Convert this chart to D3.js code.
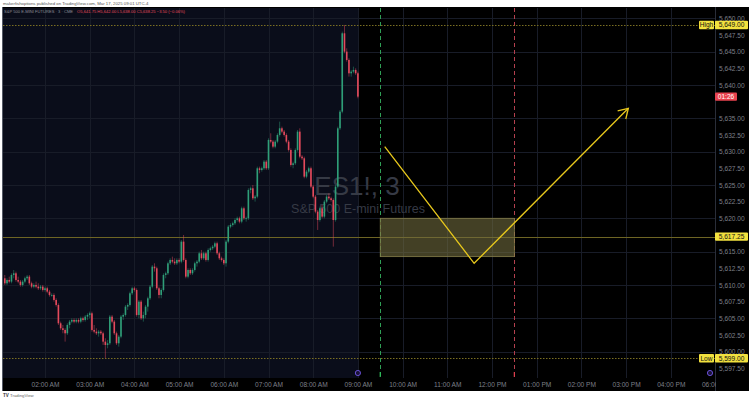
<!DOCTYPE html>
<html><head><meta charset="utf-8">
<script src="https://cdn.jsdelivr.net/npm/d3@7"></script>
<style>html,body{margin:0;padding:0;background:#fff;} svg{display:block;}</style>
</head><body><svg id="c" width="751" height="400"></svg>
<script>
// ---------- DATA (3-minute bars, ES1!, from 01:06 AM to 09:00 AM) ----------
const opens = [5611,5610.25,5610.75,5610.5,5611.5,5611.75,5610.75,5610.5,5610,5610.5,
5611,5611.25,5610.25,5609.75,5610,5609.75,5609.5,5609.75,5609.25,5609.5,
5609,5608.5,5608.5,5607.75,5607,5604.25,5603.5,5603.25,5602.75,5604,
5604.5,5604.75,5604.5,5604.75,5604.5,5605,5604.75,5605.25,5605.5,5605.75,
5603.25,5603,5602.75,5603,5602.75,5601.5,5601,5601.25,5605.25,5604.5,
5602.75,5601.25,5602.25,5605.25,5605.5,5606.75,5607,5608.75,5609.5,5609.25,
5605.5,5607.5,5605,5605.5,5606.75,5608,5609.75,5612.75,5612.5,5609.5,
5608.5,5609.25,5611.5,5611.75,5613.25,5613.75,5613.5,5613.25,5613.75,5613.5,
5616.5,5613.75,5611.25,5612.25,5611.75,5612.25,5613.25,5613.5,5614.75,5614,
5614.75,5613.75,5615.25,5615.5,5615.75,5616.25,5614.75,5614,5613.75,5613.25,
5616.5,5618.75,5619,5619.25,5619.75,5620,5619.5,5621.5,5620,5620,
5624.25,5624.5,5623,5623.25,5627.5,5627.25,5627.5,5628.5,5627.5,5631.75,
5631.5,5630.75,5631.5,5632.5,5633.5,5633,5632.5,5631.5,5630.25,5628,
5628.25,5630.25,5633,5629.25,5629,5626.25,5627,5627.5,5624.75,5623.25,
5621,5619.75,5621.5,5620.25,5622.5,5623.25,5623,5622.75,5619.75,5624.75,
5633.5,5636,5647.75,5645,5643.75,5641.75,5642,5642.25,5641.75];
const highs = [5611.5,5611,5611.25,5611.75,5612.25,5612,5611.25,5610.75,5610.75,5611.25,
5611.5,5611.5,5610.5,5610.25,5610.5,5610.25,5610,5610,5609.75,5609.75,
5609.25,5608.75,5608.75,5608,5607.25,5604.5,5604,5603.5,5604.25,5604.75,
5605,5605,5605,5605,5605.25,5605.25,5605.5,5605.75,5606,5606,
5604,5603.5,5603.25,5603.25,5603,5602,5601.75,5605.5,5605.5,5604.75,
5603,5602.5,5605.5,5605.75,5607,5607.25,5609,5609.75,5609.75,5609.5,
5607.75,5607.75,5606,5607,5608.25,5610,5613,5613.25,5612.75,5609.75,
5609.5,5611.75,5612,5613.5,5614,5614.25,5614,5614,5614,5616.75,
5617.5,5614,5612.5,5612.5,5612.5,5613.5,5613.75,5615,5615.25,5615,
5615,5615.5,5615.75,5616,5616.5,5616.5,5615,5614.25,5614,5616.75,
5619,5619.25,5619.5,5620,5620.25,5620.25,5621.75,5621.75,5620.25,5624.5,
5624.75,5625,5623.5,5627.75,5627.75,5627.75,5628.75,5628.75,5632,5632.75,
5631.75,5631.75,5632.75,5634.5,5633.75,5633.25,5632.75,5631.75,5630.5,5628.5,
5630.5,5633.25,5633.5,5629.5,5629.25,5627.25,5627.75,5627.75,5625,5623.5,
5621.25,5621.75,5622,5622.75,5623.5,5623.75,5623.25,5623,5625,5633.75,
5636.25,5648,5649,5645.5,5644,5642.25,5642.75,5642.5,5642];
const lows = [5610,5610,5610.25,5610.25,5611,5610.5,5610.25,5609.75,5609.75,5610.25,
5610.75,5610,5609.5,5609.5,5609.5,5609.25,5609.25,5609,5609,5608.75,
5608.25,5608.25,5607.5,5606.75,5604,5603.25,5602.75,5601.5,5602.5,5603.5,
5604.25,5604.25,5604.25,5604.25,5604.25,5604.5,5604.5,5604.75,5605,5603,
5602.75,5602.5,5602.25,5602.5,5601,5599,5600.5,5601,5604.25,5602.5,
5601,5600.75,5602,5604.75,5605.25,5606.25,5606.75,5608.5,5609,5605.25,
5605,5604.75,5604.5,5605,5606,5607.75,5609.5,5612,5609.25,5608,
5608,5609,5611,5611.5,5613,5613.25,5613,5613,5613.25,5613.25,
5613.5,5611,5611,5611.5,5611.5,5612,5612.75,5613.25,5613.75,5613.75,
5613.5,5613.5,5615,5615.25,5615.5,5614.5,5613.75,5613.5,5613,5612.75,
5616.25,5618.5,5618.75,5619,5619.5,5619.25,5619.25,5619.75,5619.5,5619.75,
5623.75,5622.75,5622.5,5623,5626.75,5627,5627.25,5627.25,5627.25,5631.25,
5630.5,5630.5,5631.25,5632.25,5632.75,5632.25,5631.25,5630,5627.75,5627.5,
5628,5630,5629,5628.75,5626,5626,5626.75,5624.5,5623,5620.75,
5618.25,5619.5,5620,5620,5622.25,5622.75,5622.5,5615.75,5619.5,5624.5,
5633.25,5635.75,5644.75,5643.5,5641.25,5641.25,5641.75,5641.5,5638];
const closes = [5610.25,5610.75,5610.5,5611.5,5611.75,5610.75,5610.5,5610,5610.5,5611,
5611.25,5610.25,5609.75,5610,5609.75,5609.5,5609.75,5609.25,5609.5,5609,
5608.5,5608.5,5607.75,5607,5604.25,5603.5,5603.25,5602.75,5604,5604.5,
5604.75,5604.5,5604.75,5604.5,5605,5604.75,5605.25,5605.5,5605.75,5603.25,
5603,5602.75,5603,5602.75,5601.5,5601,5601.25,5605.25,5604.5,5602.75,
5601.25,5602.25,5605.25,5605.5,5606.75,5607,5608.75,5609.5,5609.25,5605.5,
5607.5,5605,5605.5,5606.75,5608,5609.75,5612.75,5612.5,5609.5,5608.5,
5609.25,5611.5,5611.75,5613.25,5613.75,5613.5,5613.25,5613.75,5613.5,5616.5,
5613.75,5611.25,5612.25,5611.75,5612.25,5613.25,5613.5,5614.75,5614,5614.75,
5613.75,5615.25,5615.5,5615.75,5616.25,5614.75,5614,5613.75,5613.25,5616.5,
5618.75,5619,5619.25,5619.75,5620,5619.5,5621.5,5620,5620,5624.25,
5624.5,5623,5623.25,5627.5,5627.25,5627.5,5628.5,5627.5,5631.75,5631.5,
5630.75,5631.5,5632.5,5633.5,5633,5632.5,5631.5,5630.25,5628,5628.25,
5630.25,5633,5629.25,5629,5626.25,5627,5627.5,5624.75,5623.25,5621,
5619.75,5621.5,5620.25,5622.5,5623.25,5623,5622.75,5619.75,5624.75,5633.5,
5636,5647.75,5645,5643.75,5641.75,5642,5642.25,5641.75,5638.25];
const firstBarMinute = 66;   // 01:06 AM
const barMinutes = 3;

const timeTickMinutes = [120,180,240,300,360,420,480,540,600,660,720,780,840,900,960,1020];
const timeTickLabels = ["02:00 AM","03:00 AM","04:00 AM","05:00 AM","06:00 AM","07:00 AM","08:00 AM","09:00 AM",
  "10:00 AM","11:00 AM","12:00 PM","01:00 PM","02:00 PM","03:00 PM","04:00 PM","06:00 PM"];
const priceTicks = [5597.5,5600,5602.5,5605,5607.5,5610,5612.5,5615,5620,5622.5,5625,5627.5,5630,5632.5,5635,5640,5642.5,5645,5647.5,5650];
const gridPrices = [5600,5605,5610,5615,5620,5625,5630,5635,5640,5645,5650];

const levelPrice = 5617.25;
const highPrice = 5649.00;
const lowPrice = 5599.00;
const zoneMinutes = [570, 750];
const zonePrices = [5614.25, 5620];
const pathMinutes = [576, 696, 903];
const pathPrices = [5630.75, 5613.25, 5636.5];
const sessionStartMinute = 570, sessionEndMinute = 750;
const countdownText = "01:26";
const title = "makerfishoptions published on TradingView.com, Mar 17, 2025 09:01 UTC-4";
const legendName = "S&P 500 E-MINI FUTURES · 3 · CME";
const legendValues = "O5,641.75  H5,642.00  L5,638.00  C5,638.25  −3.50 (−0.06%)";

// ---------- LAYOUT ----------
const svg = d3.select("#c");
const L = 3, R = 715, T = 8, B = 378, AX = 749, AB = 391;
const x = d3.scaleLinear().domain([120, 180]).range([45, 89.7]);
const y = d3.scaleLinear().domain([5650, 5597.5]).range([18.3, 368.3]);
const font = "'Liberation Sans', Arial, sans-serif";

const bars = opens.map((o, i) => ({t: firstBarMinute + i * barMinutes, o, h: highs[i], l: lows[i], c: closes[i]}));

svg.append("rect").attr("x", 2).attr("y", 7).attr("width", AX - 2).attr("height", AB - 7).attr("fill", "#000");
const defs = svg.append("defs");
defs.append("clipPath").attr("id", "plot").append("rect").attr("x", L).attr("y", T).attr("width", R - L).attr("height", B - T);
const plot = svg.append("g").attr("clip-path", "url(#plot)");

plot.append("rect").attr("x", L).attr("y", T)
  .attr("width", x(bars[bars.length - 1].t + 1.5) - L).attr("height", B - T).attr("fill", "#0a0d1a");

plot.selectAll(".hg").data(gridPrices).join("line")
  .attr("x1", L).attr("x2", R).attr("y1", d => Math.round(y(d)) + 0.5).attr("y2", d => Math.round(y(d)) + 0.5)
  .attr("stroke", "#181c28").attr("stroke-width", 1);
plot.selectAll(".vg").data(timeTickMinutes).join("line")
  .attr("y1", T).attr("y2", B).attr("x1", d => Math.round(x(d)) + 0.5).attr("x2", d => Math.round(x(d)) + 0.5)
  .attr("stroke", "#181c28").attr("stroke-width", 1);

// watermark
plot.append("text").attr("x", 357).attr("y", 195).attr("text-anchor", "middle")
  .attr("font-family", font).attr("font-size", 26).attr("fill", "#363a45").text("ES1!, 3");
plot.append("text").attr("x", 358).attr("y", 213).attr("text-anchor", "middle")
  .attr("font-family", font).attr("font-size", 12.5).attr("fill", "#363a45").text("S&P 500 E-mini Futures");

// session lines
plot.append("line").attr("x1", Math.round(x(sessionStartMinute)) + 0.5).attr("x2", Math.round(x(sessionStartMinute)) + 0.5)
  .attr("y1", T).attr("y2", B).attr("stroke", "#2f9e55").attr("stroke-dasharray", "4,3");
plot.append("line").attr("x1", Math.round(x(sessionEndMinute)) + 0.5).attr("x2", Math.round(x(sessionEndMinute)) + 0.5)
  .attr("y1", T).attr("y2", B).attr("stroke", "#b5404e").attr("stroke-dasharray", "4,3");

[highPrice, lowPrice].forEach(p => {
  plot.append("line").attr("x1", L).attr("x2", R).attr("y1", Math.round(y(p)) + 0.5).attr("y2", Math.round(y(p)) + 0.5)
    .attr("stroke", "#7a6f22").attr("stroke-dasharray", "1.5,1.5").attr("stroke-width", 1);
});
plot.append("line").attr("x1", L).attr("x2", R).attr("y1", Math.round(y(levelPrice)) + 0.5).attr("y2", Math.round(y(levelPrice)) + 0.5)
  .attr("stroke", "#6e6524").attr("stroke-width", 1);

// zone
plot.append("rect").attr("x", x(zoneMinutes[0])).attr("y", y(zonePrices[1]))
  .attr("width", x(zoneMinutes[1]) - x(zoneMinutes[0])).attr("height", y(zonePrices[0]) - y(zonePrices[1]))
  .attr("fill", "#6f6a3e").attr("fill-opacity", 0.6).attr("stroke", "#857e4a").attr("stroke-width", 0.8);

// candles
const bw = 1.6;
const up = "#2f9e78", dn = "#e34a5c";
plot.selectAll(".wick").data(bars).join("line")
  .attr("x1", d => x(d.t)).attr("x2", d => x(d.t)).attr("y1", d => y(d.h)).attr("y2", d => y(d.l))
  .attr("stroke", d => d.c >= d.o ? up : dn).attr("stroke-width", 0.6).attr("stroke-opacity", 0.8);
plot.selectAll(".body").data(bars).join("rect")
  .attr("x", d => x(d.t) - bw / 2).attr("width", bw)
  .attr("y", d => y(Math.max(d.o, d.c))).attr("height", d => Math.max(0.8, Math.abs(y(d.o) - y(d.c))))
  .attr("fill", d => d.c >= d.o ? up : dn);

// yellow path with arrow
const pts = pathMinutes.map((m, i) => [x(m), y(pathPrices[i])]);
plot.append("path").attr("d", d3.line()(pts)).attr("fill", "none").attr("stroke", "#e8c81c").attr("stroke-width", 1.3);
{
  const [a, b] = [pts[1], pts[2]];
  const ang = Math.atan2(b[1] - a[1], b[0] - a[0]);
  const len = 11, spread = 0.55;
  const w1 = [b[0] - len * Math.cos(ang - spread), b[1] - len * Math.sin(ang - spread)];
  const w2 = [b[0] - len * Math.cos(ang + spread), b[1] - len * Math.sin(ang + spread)];
  plot.append("path").attr("d", d3.line()([w1, b, w2])).attr("fill", "none").attr("stroke", "#e8c81c").attr("stroke-width", 1.3);
}

svg.append("line").attr("x1", 2.5).attr("x2", 2.5).attr("y1", 7).attr("y2", AB).attr("stroke", "#555a66");
svg.append("line").attr("x1", R + 0.5).attr("x2", R + 0.5).attr("y1", 7).attr("y2", AB).attr("stroke", "#2a2e39");

// price axis
const pa = svg.append("g").attr("transform", `translate(${R},0)`)
  .call(d3.axisRight(y).tickValues(priceTicks).tickFormat(d3.format(",.2f")).tickSize(0).tickPadding(4));
pa.select(".domain").remove();
pa.selectAll("text").attr("font-family", font).attr("font-size", 6.6).attr("fill", "#7c7f88");

// time axis
const ta = svg.append("g").attr("transform", `translate(0,${B})`)
  .call(d3.axisBottom(x).tickValues(timeTickMinutes).tickFormat((d, i) => timeTickLabels[i]).tickSize(0).tickPadding(4));
ta.select(".domain").remove();
ta.selectAll("text").attr("font-family", font).attr("font-size", 6.6).attr("fill", "#7c7f88");
svg.append("rect").attr("x", R + 1).attr("y", B).attr("width", AX - R - 1).attr("height", AB - B).attr("fill", "#000");

svg.append("line").attr("x1", x(sessionStartMinute)).attr("x2", x(sessionStartMinute)).attr("y1", 372).attr("y2", 377).attr("stroke", "#2fbf5a").attr("stroke-width", 1.2);
svg.append("line").attr("x1", x(sessionEndMinute)).attr("x2", x(sessionEndMinute)).attr("y1", 372).attr("y2", 377).attr("stroke", "#e0404e").attr("stroke-width", 1.2);
[[x(bars[bars.length - 1].t), 373], [710, 373]].forEach(([cx, cy]) => {
  svg.append("circle").attr("cx", cx).attr("cy", cy).attr("r", 2.6).attr("fill", "#1b1438").attr("stroke", "#7257e8").attr("stroke-width", 0.9);
});

function box(x0, w, yc, fill, txt, color) {
  svg.append("rect").attr("x", x0).attr("y", yc - 4.2).attr("width", w).attr("height", 8.4).attr("rx", 1).attr("fill", fill);
  svg.append("text").attr("x", x0 + w / 2).attr("y", yc + 2.3).attr("text-anchor", "middle")
    .attr("font-family", font).attr("font-size", 6.6).attr("fill", color).text(txt);
}
const fmt = d3.format(",.2f");
box(R - 16, 15, y(highPrice), "#f2e13f", "High", "#111");
box(R, 33, y(highPrice), "#f2e13f", fmt(highPrice), "#111");
box(R, 33, y(levelPrice), "#f2e13f", fmt(levelPrice), "#111");
box(R - 16, 15, y(lowPrice), "#f2e13f", "Low", "#111");
box(R, 33, y(lowPrice), "#f2e13f", fmt(lowPrice), "#111");
box(R, 22, y(closes[closes.length - 1]), "#e8434f", countdownText, "#fff");

// header & legend
svg.append("text").attr("x", 3).attr("y", 5).attr("font-family", font).attr("font-size", 4.3).attr("fill", "#555").text(title);
const ln = svg.append("text").attr("x", 4).attr("y", 12.5).attr("font-family", font).attr("font-size", 4.1).attr("fill", "#8a8d96").text(legendName);
const lnW = ln.node().getComputedTextLength();
svg.append("text").attr("x", 4 + lnW + 4).attr("y", 12.5).attr("font-family", font).attr("font-size", 4.1).attr("fill", "#e34a5c").text(legendValues);
svg.append("text").attr("x", 3).attr("y", 397).attr("font-family", font).attr("font-size", 4.5).attr("font-weight", "bold").attr("fill", "#333").text("TV");
svg.append("text").attr("x", 10).attr("y", 397).attr("font-family", font).attr("font-size", 4.3).attr("fill", "#666").text("TradingView");
</script></body></html>
